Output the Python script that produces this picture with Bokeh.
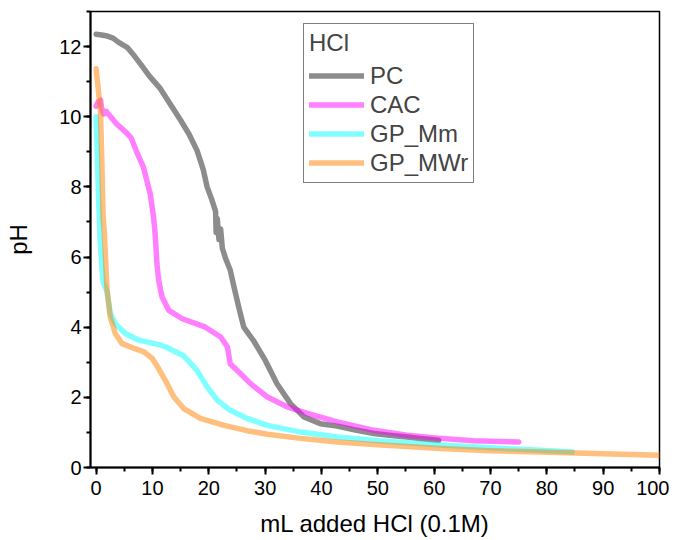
from bokeh.plotting import figure
from bokeh.models import Range1d, SingleIntervalTicker, Legend, LegendItem
from bokeh.embed import file_html
from bokeh.resources import INLINE

# ---- data ----
pc_x = [0, 1, 2, 3, 4, 5.5, 6.7, 7.9, 9.5, 11.4, 13, 15, 16.5, 17.9, 19, 19.7, 20.5, 21.2,
        21.3, 21.5, 21.8, 22.1, 22.4, 23.0, 23.8, 24.4, 25.3, 26.2, 28, 28.6, 30, 30.9, 32.1,
        34.5, 36.9, 39.8, 42.8, 46, 49.3, 52, 55.2, 58, 60.8]
pc_y = [12.35, 12.33, 12.3, 12.24, 12.12, 11.98, 11.75, 11.5, 11.15, 10.8, 10.4, 9.9, 9.5, 9.04,
        8.5, 8.0, 7.65, 7.3, 6.7, 7.1, 6.5, 6.8, 6.25, 5.95, 5.63, 5.2, 4.58, 4.0, 3.6, 3.44,
        3.06, 2.77, 2.39, 1.82, 1.44, 1.25, 1.18, 1.07, 0.97, 0.92, 0.87, 0.82, 0.78]

cac_x = [0, 0.35, 0.8, 0.94, 1.36, 1.8, 3.1, 3.6, 5.4, 6.2, 7.2, 8.4, 9.6, 10.2, 10.5, 10.8,
         11.1, 11.7, 12.9, 15.3, 19.4, 22.1, 23.3, 23.8, 25.6, 27.4, 30.4, 33.9, 37.5,
         42.8, 49.3, 55.2, 61.1, 67, 75]
cac_y = [10.3, 10.42, 10.47, 10.27, 10.08, 10.15, 9.9, 9.8, 9.54, 9.4, 9.0, 8.56, 7.8, 7.14,
         6.6, 5.8, 5.34, 4.86, 4.48, 4.24, 4.0, 3.72, 3.44, 2.96, 2.68, 2.39, 2.01,
         1.73, 1.54, 1.3, 1.06, 0.92, 0.83, 0.76, 0.73]

gpm_x = [0, 0.2, 0.45, 0.7, 1.06, 1.24, 1.95, 2.5, 3.4, 5.2, 7.6, 11.7, 12.6, 15.55, 17.9,
         19.7, 21.5, 23.8, 26.8, 30.4, 36.3, 42.8, 50, 61.1, 70, 78, 84.5]
gpm_y = [10.0, 9.0, 7.6, 6.5, 5.62, 5.3, 5.0, 4.4, 4.1, 3.82, 3.63, 3.48, 3.42, 3.18, 2.77,
         2.3, 1.92, 1.63, 1.4, 1.2, 1.01, 0.87, 0.76, 0.64, 0.56, 0.5, 0.44]

gpw_x = [0, 0.5, 0.76, 1.0, 1.24, 1.47, 1.83, 1.95, 2.5, 3.4, 4.6, 7.0, 8.45, 9.9, 10.8, 12.6,
         13.8, 15.55, 18.5, 22.7, 26.8, 30.4, 36.3, 42.8, 50, 61.1, 70, 78.8, 90, 100]
gpw_y = [11.37, 10.6, 10.18, 8.8, 7.14, 6.67, 5.4, 5.05, 4.29, 3.82, 3.53, 3.38, 3.3, 3.12,
         2.9, 2.39, 2.01, 1.68, 1.4, 1.2, 1.05, 0.95, 0.83, 0.73, 0.65, 0.54, 0.48, 0.44,
         0.39, 0.35]

series_names = ["PC", "CAC", "GP_Mm", "GP_MWr"]
series_x = [pc_x, cac_x, gpm_x, gpw_x]
series_y = [pc_y, cac_y, gpm_y, gpw_y]
colors = ["#000000", "#ff00ff", "#00ffff", "#ff8000"]
alphas = [0.45, 0.5, 0.5, 0.5]

x_ticks_interval = 10
y_ticks_interval = 2
FONT = "Liberation Sans"

p = figure(width=669, height=540, output_backend="svg", toolbar_location=None,
           x_range=Range1d(-1, 100), y_range=Range1d(0, 13.0),
           min_border_left=90, min_border_right=10, min_border_top=11, min_border_bottom=73)
p.grid.visible = False
p.outline_line_color = "black"
p.outline_line_width = 1.5

renderers = []
for xs, ys, c, a in zip(series_x, series_y, colors, alphas):
    r = p.line(xs, ys, line_color=c, line_alpha=a, line_width=5.5, line_join="round", line_cap="round")
    renderers.append(r)

p.xaxis.ticker = SingleIntervalTicker(interval=x_ticks_interval, num_minor_ticks=2)
p.yaxis.ticker = SingleIntervalTicker(interval=y_ticks_interval, num_minor_ticks=2)
p.xaxis.axis_label = "mL added HCl (0.1M)"
p.yaxis.axis_label = "pH"
for ax in (p.xaxis, p.yaxis):
    ax.axis_line_width = 2
    ax.major_tick_line_width = 2
    ax.minor_tick_line_width = 2
    ax.major_tick_out = 7
    ax.major_tick_in = 0
    ax.minor_tick_out = 4
    ax.minor_tick_in = 0
    ax.major_label_text_font = FONT
    ax.major_label_text_font_size = "20px"
    ax.major_label_text_color = "black"
    ax.axis_label_text_font = FONT
    ax.axis_label_text_font_size = "24px"
    ax.axis_label_text_font_style = "normal"
    ax.axis_label_text_color = "black"
p.xaxis.major_label_standoff = 6
p.yaxis.major_label_standoff = 2
p.xaxis.axis_label_standoff = 12
p.yaxis.axis_label_standoff = 24

legend = Legend(items=[LegendItem(label=n, renderers=[r]) for n, r in zip(series_names, renderers)],
                location=(213, 284), title="HCl")
legend.title_text_font = FONT
legend.title_text_font_size = "24px"
legend.title_text_font_style = "normal"
legend.label_text_font = FONT
legend.label_text_font_size = "24px"
legend.padding = 5
legend.margin = 0
legend.spacing = 0
legend.glyph_width = 55
legend.glyph_height = 29
legend.label_height = 29
legend.label_standoff = 6
legend.title_standoff = 4
legend.border_line_color = "black"
legend.border_line_width = 1
legend.background_fill_alpha = 1
p.add_layout(legend)

open("out.html", "w").write(file_html(p, INLINE))
